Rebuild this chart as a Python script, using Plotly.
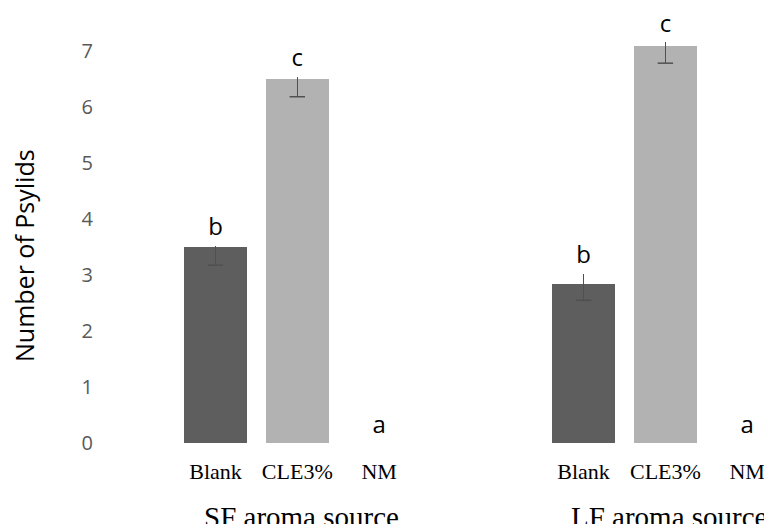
import plotly.graph_objects as go

# ---- data ----
sources = ["SF aroma source", "LF aroma source"]
treatments = ["Blank", "CLE3%", "NM"]
# mean number of psylids per source (rows) x treatment (cols)
means = [
    [3.50, 6.50, 0.0],   # SF
    [2.85, 7.10, 0.0],   # LF
]
err_plus = [
    [0.03, 0.05, 0.0],
    [0.18, 0.07, 0.0],
]
err_minus = [
    [0.32, 0.31, 0.0],
    [0.30, 0.31, 0.0],
]
letters = [
    ["b", "c", "a"],
    ["b", "c", "a"],
]
y_ticks = [0, 1, 2, 3, 4, 5, 6, 7]

# ---- styling ----
bar_colors = ["#5e5e5e", "#b2b2b2", "#ffffff"]
err_color = "#505050"
group_gap = 4.5  # x offset between the two aroma-source groups
letter_offset = 0.29

W, H = 772, 524
ML, MR, MT, MB = 92, 20, 2, 89
plot_w = W - ML - MR
plot_h = H - MT - MB

fig = go.Figure()

xs_all, ys_all, lett_all = [], [], []
cap_x, cap_y = [], []
for g, src in enumerate(sources):
    xs = [g * group_gap + i for i in range(len(treatments))]
    fig.add_trace(go.Bar(
        x=xs,
        y=means[g],
        marker=dict(color=bar_colors, line=dict(width=0)),
        width=0.77,
        error_y=dict(
            type="data", symmetric=False,
            array=err_plus[g], arrayminus=err_minus[g],
            color=err_color, thickness=1.5, width=0,
        ),
        showlegend=False,
        hoverinfo="skip",
    ))
    for i, x in enumerate(xs):
        if err_minus[g][i] > 0:
            cap_x.append(x)
            cap_y.append(means[g][i] - err_minus[g][i])
        xs_all.append(x)
        ys_all.append(means[g][i] + err_plus[g][i] + letter_offset)
        lett_all.append(letters[g][i])

# bottom caps of the error bars
fig.add_trace(go.Scatter(
    x=cap_x, y=cap_y, mode="markers",
    marker=dict(symbol="line-ew", size=11,
                line=dict(color=err_color, width=1.5)),
    showlegend=False, hoverinfo="skip",
))

# significance letters
fig.add_trace(go.Scatter(
    x=xs_all, y=ys_all, mode="text", text=lett_all,
    textposition="middle center",
    textfont=dict(family="Open Sans, sans-serif", size=24, color="#000000"),
    showlegend=False, hoverinfo="skip", cliponaxis=False,
))

tick_x = [g * group_gap + i for g in range(len(sources)) for i in range(len(treatments))]
tick_text = [t for _ in sources for t in treatments]

fig.update_layout(
    width=W, height=H,
    margin=dict(l=ML, r=MR, t=MT, b=MB, autoexpand=False),
    paper_bgcolor="white", plot_bgcolor="white",
    bargap=0,
    xaxis=dict(
        range=[-1.412, -1.412 + plot_w / 81.8],
        tickmode="array", tickvals=tick_x, ticktext=tick_text,
        tickfont=dict(family="Liberation Serif, Times New Roman, serif",
                      size=22, color="#000000"),
        showgrid=False, zeroline=False, showline=False, ticks="",
        ticklabelstandoff=13,
    ),
    yaxis=dict(
        range=[0, plot_h / 55.94],
        tickmode="array", tickvals=y_ticks,
        tickfont=dict(family="Open Sans, sans-serif", size=20, color="#595959"),
        showgrid=False, zeroline=False, showline=False, ticks="",
        ticklabelstandoff=6,
    ),
)

# axis title and group labels
fig.add_annotation(
    text="Number of Psylids", textangle=-90,
    xref="paper", yref="paper", x=(16 - ML) / plot_w, y=(435 - 248) / plot_h,
    xanchor="center", yanchor="middle", showarrow=False,
    font=dict(family="Open Sans, sans-serif", size=25, color="#000000"),
)
for g, src in enumerate(sources):
    fig.add_annotation(
        text=src, xref="x", yref="paper",
        x=g * group_gap + 1, y=-56 / plot_h, xshift=4,
        xanchor="center", yanchor="top", showarrow=False,
        font=dict(family="Liberation Serif, Times New Roman, serif",
                  size=29, color="#000000"),
    )

fig.write_html("out.html")
